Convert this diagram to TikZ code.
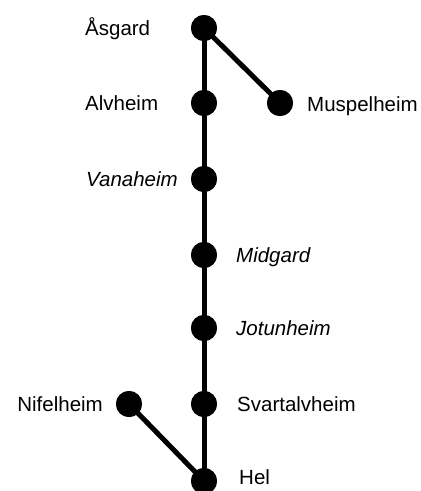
\documentclass[tikz,border=0pt]{standalone}
\usepackage{fontspec}
\setmainfont{Liberation Sans}
\begin{document}
\begin{tikzpicture}[x=1pt,y=-1pt,
  world/.style={circle,fill=black,inner sep=0pt,minimum size=26pt},
  link/.style={line width=5pt},
  lbl/.style={font=\fontsize{20.5}{24}\selectfont,inner sep=0pt,anchor=base west}]
\useasboundingbox (0,0) rectangle (421,491);
\node[world] (asgard) at (204,28) {};
\node[world] (alv) at (204,103) {};
\node[world] (van) at (204,179) {};
\node[world] (mid) at (204,255) {};
\node[world] (jot) at (204,328) {};
\node[world] (svart) at (204,404) {};
\node[world] (hel) at (204,481) {};
\node[world] (musp) at (280,103) {};
\node[world] (nif) at (129,404) {};
\draw[link] (asgard.center) -- (musp.center);
\draw[link] (nif.center) -- (hel.center);
\draw[link] (asgard.center) -- (alv.center) -- (van.center) -- (mid.center) -- (jot.center) -- (svart.center) -- (hel.center);
\foreach \n in {asgard,alv,van,mid,jot,svart,hel,musp,nif}
  \fill (\n) circle (13pt);
\node[lbl] (tasg) at (85,35.5) {Åsgard};
\node[lbl] (talv) at (85,110.5) {Alvheim};
\node[lbl] (tvan) at (86,186.5) {\itshape Vanaheim};
\node[lbl] (tmid) at (236,262.5) {\itshape Midgard};
\node[lbl] (tjot) at (236,335.5) {\itshape Jotunheim};
\node[lbl] (tsva) at (237,411.5) {Svartalvheim};
\node[lbl] (thel) at (239,484.5) {Hel};
\node[lbl] (tmus) at (307,111) {Muspelheim};
\node[lbl,anchor=base east] (tnif) at (103,411.5) {Nifelheim};
\end{tikzpicture}
\end{document}
